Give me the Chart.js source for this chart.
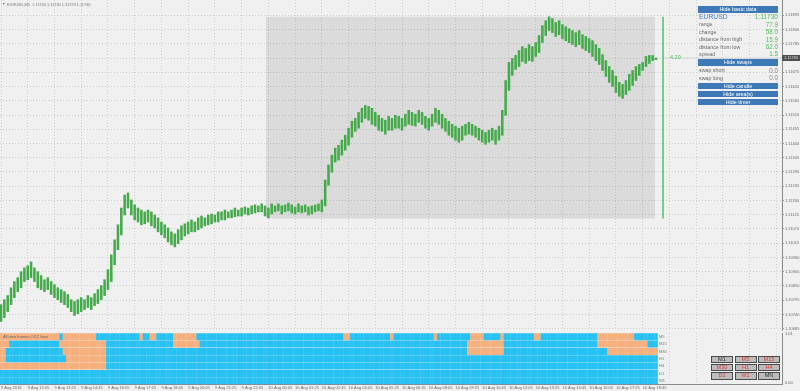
<!DOCTYPE html>
<html><head><meta charset="utf-8">
<script src="https://cdn.jsdelivr.net/npm/chart.js@4/dist/chart.umd.min.js"></script>
<style>
body{margin:0;background:#f0f0f0;width:800px;height:391px;overflow:hidden;position:relative;font-family:"Liberation Sans",Arial,sans-serif;}
canvas{position:absolute;left:0;}
#c1{top:0;}
#c2{top:331px;}
.t{position:absolute;white-space:nowrap;line-height:1;}
.btn{position:absolute;left:698px;width:80px;background:#3c79b6;color:#fff;font-size:5.4px;text-align:center;}
.lb{position:absolute;left:699px;font-size:5.3px;color:#666;line-height:1;white-space:nowrap;}
.vl{position:absolute;right:22px;font-size:6.3px;color:#4fc15c;line-height:1;white-space:nowrap;}
.tf{position:absolute;width:22px;height:7.4px;background:#bcbcbc;border:1px solid #4a4a4a;box-sizing:border-box;font-size:5.6px;line-height:5.6px;text-align:center;color:#e03a3a;}
.rl{position:absolute;left:659px;font-size:4px;color:#777;line-height:1;}
</style></head>
<body>
<canvas id="c1" width="800" height="334"></canvas>
<canvas id="c2" width="800" height="60"></canvas>

<div class="t" style="left:2px;top:3px;font-size:3.5px;color:#777;">▼</div>
<div class="t" style="left:7px;top:3px;font-size:3.9px;color:#777;">EURUSD,M5&nbsp; 1.11730 1.11730 1.11729 1.11730</div>

<div class="btn" style="top:5.7px;height:7px;line-height:7px;">Hide basic data</div>
<div class="lb" style="top:14px;font-size:6.8px;color:#3d7fc2;">EURUSD</div>
<div class="vl" style="top:14px;font-size:6.6px;">1.11730</div>
<div class="lb" style="top:22.3px;">range</div><div class="vl" style="top:21.8px;">77.9</div>
<div class="lb" style="top:29.6px;">change</div><div class="vl" style="top:29.1px;">58.0</div>
<div class="lb" style="top:37.3px;">distance from high</div><div class="vl" style="top:36.8px;">15.9</div>
<div class="lb" style="top:44.6px;">distance from low</div><div class="vl" style="top:44.1px;">62.0</div>
<div class="lb" style="top:51.6px;">spread</div><div class="vl" style="top:51.1px;">1.5</div>
<div class="btn" style="top:59.3px;height:6.8px;line-height:6.8px;">Hide swaps</div>
<div class="lb" style="top:68px;">swap short</div><div class="vl" style="top:67.5px;color:#888;">0.0</div>
<div class="lb" style="top:75.6px;">swap long</div><div class="vl" style="top:75.1px;color:#888;">0.0</div>
<div class="btn" style="top:82.7px;height:6.6px;line-height:6.6px;">Hide candle</div>
<div class="btn" style="top:91px;height:6.4px;line-height:6.4px;">Hide area(s)</div>
<div class="btn" style="top:99px;height:6.4px;line-height:6.4px;">Hide timer</div>

<div class="t" style="left:782px;top:54.5px;width:18px;height:6.5px;background:#505050;color:#ddd;font-size:4px;line-height:6.5px;text-align:center;">1.11730</div>
<div class="t" style="left:670px;top:55px;font-size:5.5px;color:#45bf5a;">4.20</div>

<div class="t" style="left:3px;top:334.5px;font-size:4px;color:#666;">All time frames OCC bars</div>
<div class="rl" style="top:334.7px;">M5</div>
<div class="rl" style="top:342px;">M15</div>
<div class="rl" style="top:349.5px;">M30</div>
<div class="rl" style="top:357px;">H1</div>
<div class="rl" style="top:364px;">H4</div>
<div class="rl" style="top:371.5px;">D1</div>
<div class="rl" style="top:379px;">W1</div>
<div class="t" style="left:785px;top:332px;font-size:4px;color:#666;">1.01</div>
<div class="t" style="left:785px;top:381px;font-size:4px;color:#666;">0.00</div>

<div class="tf" style="left:711px;top:355.7px;color:#333;">M1</div>
<div class="tf" style="left:734.5px;top:355.7px;">M5</div>
<div class="tf" style="left:758px;top:355.7px;">M15</div>
<div class="tf" style="left:711px;top:364px;">M30</div>
<div class="tf" style="left:734.5px;top:364px;">H1</div>
<div class="tf" style="left:758px;top:364px;">H4</div>
<div class="tf" style="left:711px;top:372.3px;">D1</div>
<div class="tf" style="left:734.5px;top:372.3px;">W1</div>
<div class="tf" style="left:758px;top:372.3px;color:#333;">MN</div>

<script>
// ---------- data ----------
const highs = [1.10778,1.10797,1.10813,1.10843,1.10867,1.10882,1.10905,1.10920,1.10928,1.10943,
1.10920,1.10905,1.10890,1.10874,1.10882,1.10867,1.10855,1.10843,1.10836,1.10828,
1.10817,1.10797,1.10790,1.10797,1.10805,1.10797,1.10813,1.10805,1.10820,1.10836,
1.10851,1.10874,1.10913,1.10970,1.11028,1.11086,1.11151,1.11201,1.11209,1.11182,
1.11163,1.11151,1.11143,1.11136,1.11143,1.11136,1.11124,1.11113,1.11097,1.11086,
1.11074,1.11059,1.11051,1.11067,1.11082,1.11090,1.11097,1.11105,1.11097,1.11113,
1.11120,1.11113,1.11124,1.11128,1.11124,1.11136,1.11136,1.11143,1.11136,1.11143,
1.11151,1.11143,1.11151,1.11155,1.11151,1.11159,1.11163,1.11159,1.11167,1.11159,
1.11151,1.11167,1.11159,1.11167,1.11159,1.11163,1.11170,1.11163,1.11155,1.11167,
1.11159,1.11163,1.11155,1.11159,1.11163,1.11167,1.11182,1.11259,1.11317,1.11355,
1.11382,1.11393,1.11413,1.11432,1.11459,1.11486,1.11497,1.11520,1.11536,1.11547,
1.11543,1.11536,1.11520,1.11509,1.11497,1.11490,1.11505,1.11497,1.11509,1.11505,
1.11497,1.11513,1.11528,1.11520,1.11513,1.11528,1.11520,1.11505,1.11497,1.11513,
1.11536,1.11528,1.11513,1.11497,1.11486,1.11474,1.11467,1.11459,1.11467,1.11474,
1.11482,1.11474,1.11467,1.11459,1.11451,1.11443,1.11451,1.11459,1.11451,1.11467,
1.11528,1.11643,1.11713,1.11728,1.11740,1.11759,1.11774,1.11767,1.11782,1.11774,
1.11790,1.11817,1.11855,1.11874,1.11889,1.11882,1.11867,1.11874,1.11859,1.11851,
1.11843,1.11836,1.11828,1.11836,1.11820,1.11813,1.11805,1.11797,1.11782,1.11767,
1.11743,1.11720,1.11697,1.11682,1.11659,1.11636,1.11628,1.11643,1.11667,1.11682,
1.11697,1.11705,1.11713,1.11736,1.11740,1.11740,1.11730];
const lows = [1.10713,1.10728,1.10751,1.10778,1.10805,1.10828,1.10843,1.10867,1.10874,1.10882,
1.10867,1.10843,1.10836,1.10828,1.10836,1.10817,1.10805,1.10797,1.10786,1.10778,
1.10767,1.10751,1.10736,1.10743,1.10751,1.10759,1.10767,1.10759,1.10774,1.10782,
1.10797,1.10813,1.10836,1.10867,1.10932,1.10990,1.11047,1.11124,1.11151,1.11124,
1.11105,1.11097,1.11086,1.11090,1.11097,1.11082,1.11074,1.11059,1.11047,1.11036,
1.11020,1.11009,1.11001,1.11013,1.11028,1.11043,1.11051,1.11059,1.11059,1.11067,
1.11074,1.11082,1.11086,1.11090,1.11097,1.11097,1.11105,1.11105,1.11113,1.11113,
1.11117,1.11120,1.11120,1.11128,1.11124,1.11128,1.11132,1.11136,1.11136,1.11120,
1.11113,1.11128,1.11136,1.11140,1.11128,1.11136,1.11140,1.11132,1.11128,1.11136,
1.11132,1.11136,1.11124,1.11128,1.11136,1.11140,1.11136,1.11159,1.11239,1.11289,
1.11328,1.11336,1.11355,1.11374,1.11393,1.11424,1.11447,1.11459,1.11482,1.11497,
1.11490,1.11474,1.11467,1.11451,1.11447,1.11436,1.11451,1.11451,1.11459,1.11459,
1.11451,1.11467,1.11474,1.11470,1.11467,1.11482,1.11474,1.11459,1.11451,1.11467,
1.11482,1.11474,1.11459,1.11447,1.11432,1.11424,1.11413,1.11405,1.11413,1.11432,
1.11436,1.11432,1.11424,1.11413,1.11405,1.11397,1.11405,1.11413,1.11397,1.11413,
1.11432,1.11509,1.11605,1.11663,1.11686,1.11697,1.11717,1.11709,1.11720,1.11717,
1.11736,1.11751,1.11790,1.11817,1.11836,1.11828,1.11813,1.11820,1.11805,1.11797,
1.11789,1.11782,1.11774,1.11782,1.11767,1.11759,1.11751,1.11736,1.11720,1.11705,
1.11682,1.11659,1.11636,1.11620,1.11597,1.11582,1.11574,1.11589,1.11605,1.11624,
1.11643,1.11663,1.11682,1.11697,1.11709,1.11720,1.11724];
const tickLabels = ["9 Aug 2016","9 Aug 12:05","9 Aug 13:25","9 Aug 14:45","9 Aug 16:05","9 Aug 17:25","9 Aug 18:45","9 Aug 20:05","9 Aug 21:25","9 Aug 22:45","10 Aug 00:05","10 Aug 01:25","10 Aug 02:45","10 Aug 04:05","10 Aug 05:25","10 Aug 06:45","10 Aug 08:05","10 Aug 09:25","10 Aug 10:45","10 Aug 12:05","10 Aug 13:25","10 Aug 14:45","10 Aug 16:05","10 Aug 17:25","10 Aug 18:45"];
const priceTicks = [1.10685,1.10740,1.10795,1.10850,1.10905,1.10960,1.11015,1.11070,1.11125,1.11180,1.11235,1.11290,1.11345,1.11400,1.11455,1.11510,1.11565,1.11620,1.11675,1.11730,1.11785,1.11840,1.11895];
const lastPrice = 1.11730;
const boxHigh = 1.11889, boxLow = 1.11110;
const boxStart = 79.3, boxEnd = 195.7, timerBar = 198.1;
const timeframes = ["M5","M15","M30","H1","H4","D1","W1"];
const orangeRuns = {
  M5:  [[0,16],[17,17],[19,28],[42,42],[45,46],[52,58],[103,104],[117,117],[130,130],[141,144],[150,150],[160,161],[179,189]],
  M15: [[0,2],[18,31],[52,59],[140,150],[179,193]],
  M30: [[0,1],[19,31],[140,150],[182,196]],
  H1:  [[0,1],[20,31]],
  H4:  [[0,31]],
  D1:  [],
  W1:  []
};

// ---------- layout ----------
const barsPerLabel = 8;
const xMin = -0.3, xMax = 233.7;
const yMin = 1.10680, yMax = 1.11954;
const gridIdx = [];
for (let v = 0; v <= xMax; v += barsPerLabel) gridIdx.push(v);
const GRID = '#c6c6c6';

const fixY = w => s => { s.width = w; s.paddingTop = 0; s.paddingBottom = 0; };
const fixX = h => s => { s.height = h; s.paddingLeft = 0; s.paddingRight = 0; };

new Chart(document.getElementById('c1'), {
  type: 'bar',
  data: { datasets: [
    { type:'line', data:[{x:boxStart,y:boxHigh},{x:boxEnd,y:boxHigh}], fill:{value:boxLow},
      backgroundColor:'rgba(0,0,0,0.085)', borderWidth:0, pointRadius:0, order:10 },
    { type:'bar', data: highs.map((h,i)=>({x:i, y:[lows[i], h]})), backgroundColor:'#46a94c',
      barThickness:1.9, order:2 },
    { type:'line', data:[{x:timerBar,y:boxHigh},{x:timerBar,y:boxLow}], borderColor:'#3fc063',
      borderWidth:1.4, pointRadius:0, order:0 },
    { type:'line', data:[{x:timerBar,y:lastPrice},{x:xMax,y:lastPrice}], borderColor:'#cfcfcf',
      borderWidth:0.8, pointRadius:0, order:1 }
  ]},
  options: {
    responsive:false, animation:false, devicePixelRatio:1,
    layout:{padding:{left:0,right:0,top:0,bottom:4}},
    plugins:{legend:{display:false}, tooltip:{enabled:false}},
    scales:{
      x:{ type:'linear', min:xMin, max:xMax, offset:false,
          afterBuildTicks: s => { s.ticks = gridIdx.map(v=>({value:v})); },
          ticks:{display:false}, grid:{color:GRID, drawTicks:false, offset:false, lineWidth:0.8},
          border:{display:false, dash:[1,2]}, afterFit: fixX(0) },
      y:{ position:'right', min:yMin, max:yMax,
          afterBuildTicks: s => { s.ticks = priceTicks.map(v=>({value:v})); },
          ticks:{font:{size:4, family:'Liberation Sans'}, color:'#6a6a6a', padding:1, callback: v => v.toFixed(5)},
          grid:{color:GRID, tickLength:2, tickColor:'#888', lineWidth:0.8},
          border:{display:true, color:'#8a8a8a', width:1, dash:[1,2]}, afterFit: fixY(18) }
    }
  }
});

const BLUE = '#27c1f3', ORANGE = '#f5b07e';
const nBars = highs.length;
const rowSets = timeframes.map((tf, r) => {
  const cols = new Array(nBars).fill(BLUE);
  orangeRuns[tf].forEach(([a,b]) => { for (let i=a;i<=b && i<nBars;i++) cols[i] = ORANGE; });
  const top = timeframes.length - r;
  return { type:'bar', grouped:false, barThickness:3.0, backgroundColor:cols,
           data: highs.map((_,i)=>({x:i, y:[top-0.93, top-0.07]})) };
});

new Chart(document.getElementById('c2'), {
  type:'bar',
  data:{ datasets: rowSets },
  options:{
    responsive:false, animation:false, devicePixelRatio:1,
    layout:{padding:{left:0,right:0,top:2,bottom:0}},
    plugins:{legend:{display:false}, tooltip:{enabled:false}},
    scales:{
      x:{ type:'linear', min:xMin, max:xMax, offset:false,
          afterBuildTicks: s => { s.ticks = gridIdx.map(v=>({value:v})); },
          ticks:{font:{size:4, family:'Liberation Sans'}, color:'#666', padding:0.5, align:'start',
                 maxRotation:0, autoSkip:false,
                 callback: v => tickLabels[v/barsPerLabel] || ''},
          grid:{color:GRID, drawTicks:false, offset:false, lineWidth:0.8},
          border:{display:true, color:'#8a8a8a', dash:[1,2]}, afterFit: fixX(6.5) },
      y:{ position:'right', min:0, max:7, ticks:{display:false}, grid:{display:false},
          border:{display:true, color:'#8a8a8a'}, afterFit: fixY(18) }
    }
  }
});
</script>
</body></html>
